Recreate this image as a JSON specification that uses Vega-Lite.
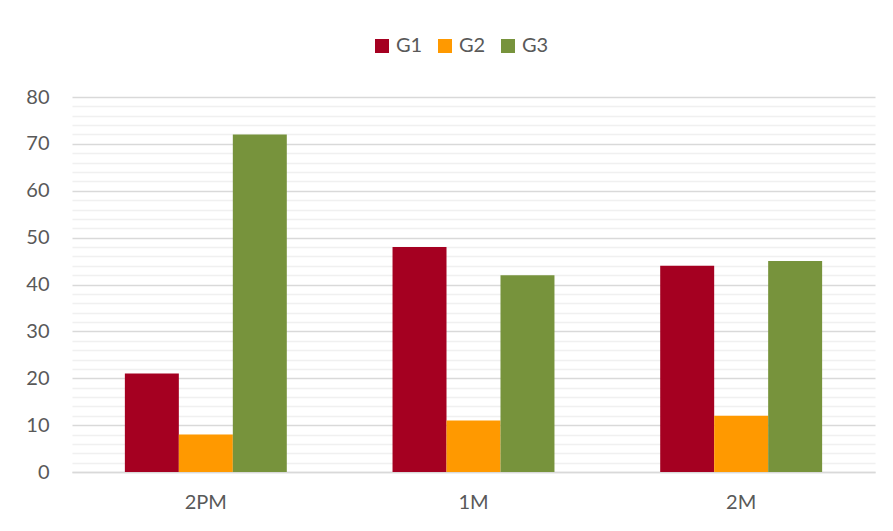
{
  "$schema": "https://vega.github.io/schema/vega-lite/v6.json",
  "width": 803,
  "height": 375,
  "autosize": {"type": "none"},
  "padding": {"left": 72, "top": 97, "right": 18, "bottom": 59},
  "background": "white",
  "data": {"values": [
    {"cat": "2PM", "group": "G1", "value": 21},
    {"cat": "2PM", "group": "G2", "value": 8},
    {"cat": "2PM", "group": "G3", "value": 72},
    {"cat": "1M", "group": "G1", "value": 48},
    {"cat": "1M", "group": "G2", "value": 11},
    {"cat": "1M", "group": "G3", "value": 42},
    {"cat": "2M", "group": "G1", "value": 44},
    {"cat": "2M", "group": "G2", "value": 12},
    {"cat": "2M", "group": "G3", "value": 45}
  ]},
  "encoding": {
    "x": {
      "field": "cat", "type": "nominal", "sort": ["2PM", "1M", "2M"],
      "scale": {"paddingInner": 0.395, "paddingOuter": 0.1975},
      "axis": {"title": null, "labelAngle": 0, "ticks": false, "domain": true, "domainColor": "#D9D9D9", "domainWidth": 1.5, "labelPadding": 20, "labelFont": "Lato", "labelFontSize": 20, "labelColor": "#595959", "labelFontWeight": "normal"}
    }
  },
  "layer": [
    {
      "mark": {"type": "bar", "fillOpacity": 0, "strokeOpacity": 0},
      "encoding": {
        "y": {
          "field": "value", "type": "quantitative",
          "scale": {"domain": [0, 80], "nice": false},
          "axis": {"orient": "left", "title": null, "labels": false, "ticks": false, "domain": false, "grid": true, "gridColor": "#F0F0F0", "gridWidth": 1.5,
            "values": [2,4,6,8,12,14,16,18,22,24,26,28,32,34,36,38,42,44,46,48,52,54,56,58,62,64,66,68,72,74,76,78]}
        }
      }
    },
    {
      "mark": {"type": "bar"},
      "encoding": {
        "y": {
          "field": "value", "type": "quantitative",
          "scale": {"domain": [0, 80], "nice": false},
          "axis": {"orient": "left", "title": null, "values": [0,10,20,30,40,50,60,70,80], "ticks": false, "domain": false, "grid": true, "gridColor": "#D9D9D9", "gridWidth": 1.5, "labelPadding": 23, "labelFont": "Lato", "labelFontSize": 20, "labelColor": "#595959"}
        },
        "xOffset": {"field": "group", "type": "nominal", "sort": ["G1", "G2", "G3"], "scale": {"paddingInner": 0, "paddingOuter": 0}},
        "color": {
          "field": "group", "type": "nominal",
          "scale": {"domain": ["G1", "G2", "G3"], "range": ["#A50021", "#FF9900", "#77933C"]},
          "legend": {
            "title": null, "orient": "none", "direction": "horizontal", "legendX": 300, "legendY": -61,
            "symbolType": "square", "symbolSize": 196, "symbolStrokeWidth": 0, "symbolOpacity": 1,
            "labelFont": "Lato", "labelFontSize": 20, "labelColor": "#595959", "labelOffset": 4, "columnPadding": 12
          }
        }
      }
    }
  ],
  "resolve": {"axis": {"y": "independent"}},
  "config": {"view": {"stroke": null}}
}
